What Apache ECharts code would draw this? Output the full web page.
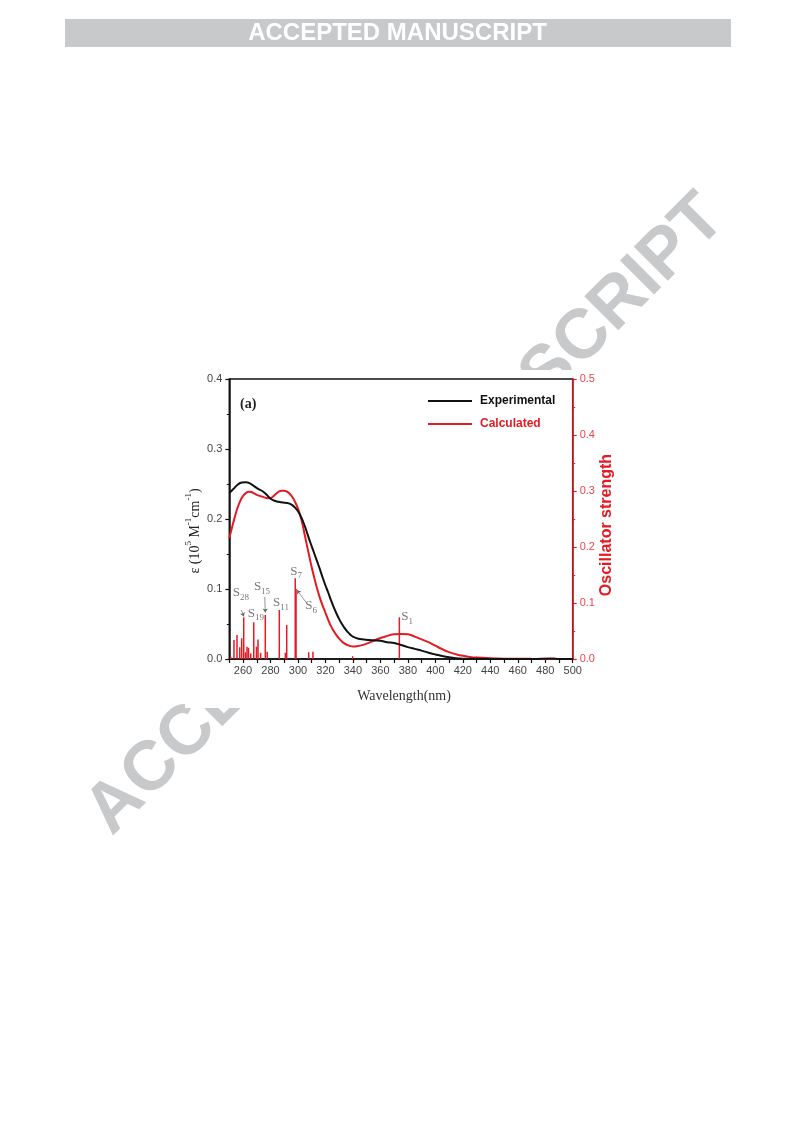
<!DOCTYPE html>
<html>
<head>
<meta charset="utf-8">
<script src="https://cdn.jsdelivr.net/npm/echarts@6/dist/echarts.min.js"></script>
<style>
html,body{margin:0;padding:0;background:#fff;}
#chart{width:793px;height:1123px;}
</style>
</head>
<body>
<div id="chart"></div>
<script>
// ---- Data ----
const expNm  = [250,253,256,259,262,265,268,271,274,277,280,283,286,289,292,295,298,300,302,304,306,308,310,312,314,316,318,320,322,324,326,328,330,332,334,336,338,340,344,348,352,356,360,365,370,375,380,385,390,395,400,405,410,415,420,430,450,470,485,490,500];
const expEps = [0.237,0.243,0.249,0.252,0.2525,0.251,0.247,0.243,0.240,0.235,0.229,0.226,0.2245,0.2235,0.223,0.221,0.216,0.211,0.204,0.195,0.184,0.172,0.161,0.150,0.139,0.128,0.116,0.105,0.095,0.084,0.074,0.065,0.057,0.050,0.044,0.039,0.035,0.032,0.029,0.028,0.027,0.0265,0.026,0.024,0.023,0.020,0.017,0.0145,0.012,0.009,0.0065,0.0043,0.0025,0.0012,0.0005,0.0002,0.0001,0.0001,0.0008,0.0001,0];

const calcNm  = [250,252,254,256,258,260,262,264,266,268,270,272,274,276,278,280,282,284,286,288,290,292,294,296,298,300,302,304,306,308,310,312,314,316,318,320,322,324,326,328,330,332,334,336,338,340,343,346,350,355,360,365,370,375,380,385,390,395,400,405,410,415,420,425,430,440,450,470,500];
const calcEps = [0.173,0.188,0.203,0.216,0.226,0.233,0.237,0.239,0.2385,0.2365,0.2345,0.233,0.232,0.2305,0.2298,0.230,0.2325,0.236,0.239,0.2405,0.2405,0.239,0.236,0.231,0.224,0.215,0.203,0.186,0.167,0.149,0.131,0.115,0.100,0.087,0.076,0.066,0.056,0.047,0.040,0.034,0.029,0.025,0.022,0.020,0.0185,0.0178,0.0182,0.0195,0.022,0.026,0.030,0.033,0.0355,0.0357,0.0352,0.032,0.028,0.024,0.019,0.014,0.0098,0.0068,0.0045,0.003,0.002,0.001,0.0005,0.0002,0.0001];

// excited-state sticks (oscillator strength)
const stickNm = [251,253.4,255.6,257.6,259,260.5,261.8,262.9,264,265.6,267.8,269.8,270.9,272.8,276.2,277.6,286.4,290.8,291.8,298.0,298.6,307.8,310.9,339.8,373.8];
const stickF  = [0.004,0.034,0.043,0.021,0.037,0.0744,0.012,0.022,0.020,0.010,0.0655,0.022,0.035,0.011,0.0786,0.013,0.0875,0.011,0.0607,0.144,0.125,0.012,0.013,0.005,0.0744];

// state annotations
const stateNames = ['28','19','15','11','7','6','1'];
const stateNm    = [258.5,269.4,273.8,287.6,298.6,309.5,379.4];
const stateF     = [0.118,0.082,0.129,0.100,0.157,0.095,0.075];
// small pointer arrows
const arrowFrom = [[258.7,0.0875],[275.8,0.111],[306.1,0.1005]];
const arrowTo   = [[260.6,0.0760],[276.2,0.0830],[299.3,0.123]];

const xMin = 250, xMax = 500, xStep = 10;
const yLeftTicks = [0, 0.4, 0.1];
const yRightTicks = [0, 0.5, 0.1];

// ---- Chart ----
const RED = '#e31b23';
const chart = echarts.init(document.getElementById('chart'), null, {renderer:'canvas'});
const zip = (a,b) => a.map((v,i)=>[v,b[i]]);

const option = {
  animation:false,
  backgroundColor:'#ffffff',
  graphic:{elements:[
    {type:'text', z:-20, x:406, y:515, rotation:Math.PI/4,
     style:{text:'ACCEPTED MANUSCRIPT', fill:'#c8c9cb', font:'bold 70px "Liberation Sans", Arial, sans-serif', textAlign:'center', textVerticalAlign:'middle'}},
    {type:'rect', z:-10, shape:{x:185,y:370,width:425,height:338}, style:{fill:'#ffffff'}},
    {type:'rect', z:-10, shape:{x:65,y:19,width:666,height:28}, style:{fill:'#c8c9cb'}},
    {type:'text', z:5, x:397.5, y:33.5,
     style:{text:'ACCEPTED MANUSCRIPT', fill:'#ffffff', font:'bold 24px "Liberation Sans", Arial, sans-serif', textAlign:'center', textVerticalAlign:'middle'}},
    {type:'text', z:5, left:240, top:397,
     style:{text:'(a)', fill:'#222', font:'bold 14px "Liberation Serif", "Times New Roman", serif'}}
  ]},
  legend:{
    orient:'vertical', left:428, top:394, padding:0, icon:'rect', itemWidth:44, itemHeight:2.2, itemGap:9,
    textStyle:{fontFamily:'"Liberation Sans", Arial, sans-serif', fontWeight:'bold', fontSize:12, padding:[0,0,0,3], lineHeight:14},
    data:[{name:'Experimental', textStyle:{color:'#111'}},{name:'Calculated', textStyle:{color:RED}}]
  },
  grid:{left:229.3, right:220.3, top:379, bottom:464, show:true, borderColor:'#111', borderWidth:1.5, backgroundColor:'transparent'},
  xAxis:{
    type:'value', min:xMin, max:xMax, interval:xStep,
    name:'Wavelength(nm)', nameLocation:'middle', nameGap:30,
    nameTextStyle:{fontFamily:'"Liberation Serif", "Times New Roman", serif', fontSize:14, color:'#333', padding:[0,0,0,6]},
    axisLine:{show:true, onZero:false, lineStyle:{color:'#111', width:1.5}},
    axisTick:{show:true, inside:false, length:4, lineStyle:{color:'#111', width:1.2}},
    axisLabel:{margin:6, color:'#444', fontSize:11, fontFamily:'"Liberation Sans", Arial, sans-serif',
      formatter:v => (v % 20 === 0 ? String(v) : '')},
    splitLine:{show:false}
  },
  yAxis:[
    {type:'value', position:'left', min:yLeftTicks[0], max:yLeftTicks[1], interval:yLeftTicks[2],
     name:'{a|ε (10}{s|5}{a| M}{s|-1}{a|cm}{s|-1}{a|)}', nameLocation:'middle', nameGap:27, nameRotate:90,
     nameTextStyle:{color:'#222', padding:[0,24,0,0], rich:{
       a:{fontFamily:'"Liberation Serif", "Times New Roman", serif', fontSize:14, color:'#222', lineHeight:18, verticalAlign:'bottom'},
       s:{fontFamily:'"Liberation Serif", "Times New Roman", serif', fontSize:9, color:'#222', lineHeight:18, verticalAlign:'top'}}},
     axisLine:{show:true, onZero:false, lineStyle:{color:'#111', width:1.5}},
     axisTick:{show:true, inside:false, length:4, lineStyle:{color:'#111', width:1.2}},
     minorTick:{show:true, splitNumber:2, length:2.5, lineStyle:{color:'#111', width:1}},
     axisLabel:{margin:7, color:'#444', fontSize:11, fontFamily:'"Liberation Sans", Arial, sans-serif', formatter:v=>v.toFixed(1)},
     splitLine:{show:false}},
    {type:'value', position:'right', min:yRightTicks[0], max:yRightTicks[1], interval:yRightTicks[2],
     name:'Oscillator strength', nameLocation:'middle', nameGap:24, nameRotate:90,
     nameTextStyle:{fontFamily:'"Liberation Sans", Arial, sans-serif', fontWeight:'bold', fontSize:16, color:RED, padding:[0,12,0,0]},
     axisLine:{show:true, onZero:false, lineStyle:{color:RED, width:1.5}},
     axisTick:{show:true, inside:false, length:4, lineStyle:{color:RED, width:1.2}},
     minorTick:{show:true, splitNumber:2, length:2.5, lineStyle:{color:RED, width:1}},
     axisLabel:{margin:7, color:'#e5484d', fontSize:11, fontFamily:'"Liberation Sans", Arial, sans-serif', formatter:v=>v.toFixed(1)},
     splitLine:{show:false}}
  ],
  series:[
    {name:'Sticks', type:'bar', xAxisIndex:0, yAxisIndex:1, barWidth:1.5, barGap:'-100%',
     itemStyle:{color:RED}, data:zip(stickNm, stickF), z:3},
    {name:'Experimental', type:'line', yAxisIndex:0, data:zip(expNm, expEps), smooth:0.4, symbol:'none',
     lineStyle:{color:'#111', width:2}, itemStyle:{color:'#111'}, z:5},
    {name:'Calculated', type:'line', yAxisIndex:0, data:zip(calcNm, calcEps), smooth:0.4, symbol:'none',
     lineStyle:{color:RED, width:2}, itemStyle:{color:RED}, z:4},
    {name:'States', type:'scatter', yAxisIndex:1, symbolSize:0, z:6,
     data:stateNm.map((v,i)=>[v, stateF[i], stateNames[i]]),
     label:{show:true, position:'inside',
       formatter:p => '{a|S}{b|' + p.value[2] + '}',
       rich:{
         a:{fontFamily:'"Liberation Serif", "Times New Roman", serif', fontSize:13, color:'#555', lineHeight:18, verticalAlign:'middle'},
         b:{fontFamily:'"Liberation Serif", "Times New Roman", serif', fontSize:9, color:'#555', lineHeight:18, verticalAlign:'bottom'}}}},
    {name:'Arrows', type:'lines', coordinateSystem:'cartesian2d', xAxisIndex:0, yAxisIndex:1, z:6,
     symbol:['none','arrow'], symbolSize:4,
     lineStyle:{color:'#666', width:0.7, opacity:1},
     data:arrowFrom.map((f,i)=>({coords:[f, arrowTo[i]]}))}
  ]
};
chart.setOption(option);
</script>
</body>
</html>
